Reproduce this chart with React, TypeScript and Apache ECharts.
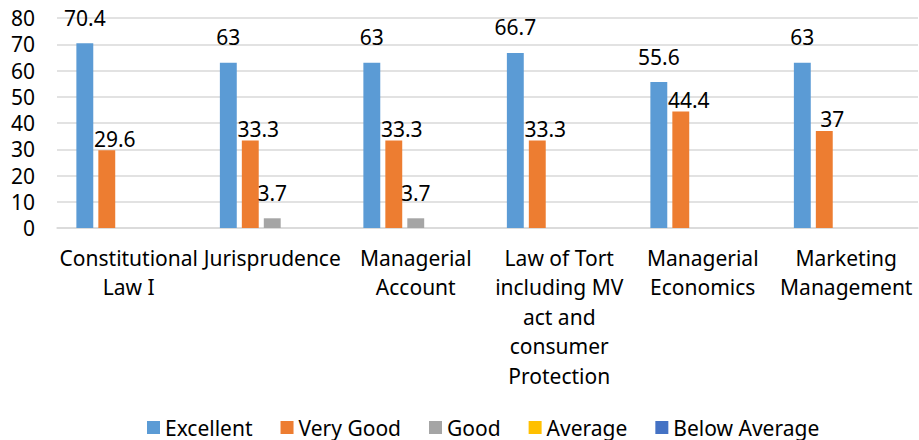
import React, { useEffect, useRef } from "react";
import * as echarts from "echarts";

const categories = [
  "Constitutional\nLaw I",
  "Jurisprudence",
  "Managerial\nAccount",
  "Law of Tort\nincluding MV\nact and\nconsumer\nProtection",
  "Managerial\nEconomics",
  "Marketing\nManagement",
];
const seriesNames = ["Excellent", "Very Good", "Good", "Average", "Below Average"];
const excellent = [70.4, 63, 63, 66.7, 55.6, 63];
const veryGood = [29.6, 33.3, 33.3, 33.3, 44.4, 37];
const good = [0, 3.7, 3.7, 0, 0, 0];
const average = [0, 0, 0, 0, 0, 0];
const belowAverage = [0, 0, 0, 0, 0, 0];
const yTicks = { min: 0, max: 80, interval: 10 };

const colors = ["#5B9BD5", "#ED7D31", "#A5A5A5", "#FFC000", "#4472C4"];
const labelStyles = [
  { distance: 15, offset: [0, 0] },
  { distance: 1, offset: [8, 0] },
  { distance: 15, offset: [0, 0] },
  { distance: 15, offset: [0, 0] },
  { distance: 15, offset: [0, 0] },
];
const FONT = "Noto Sans";

export default function App() {
  const ref = useRef<HTMLDivElement>(null);
  useEffect(() => {
    document.body.style.margin = "0";
    const chart = echarts.init(ref.current!, null, { renderer: "svg" });
    const data = [excellent, veryGood, good, average, belowAverage];
    chart.setOption({
      animation: false,
      textStyle: { fontFamily: FONT },
      color: colors,
      legend: {
        bottom: -3,
        left: 142,
        itemWidth: 13,
        itemHeight: 13,
        itemGap: 28,
        icon: "rect",
        textStyle: { fontSize: 21, color: "#000", fontFamily: FONT },
        data: seriesNames,
      },
      grid: { left: 57, right: 1, top: 18, bottom: 212, containLabel: false },
      xAxis: {
        type: "category",
        data: categories,
        axisLine: { show: true, lineStyle: { color: "#d9d9d9", width: 1.5 } },
        axisTick: { show: false },
        axisLabel: {
          interval: 0,
          fontSize: 21,
          color: "#000",
          lineHeight: 29.5,
          margin: 15,
          fontFamily: FONT,
        },
      },
      yAxis: {
        type: "value",
        min: yTicks.min,
        max: yTicks.max,
        interval: yTicks.interval,
        axisLine: { show: false },
        axisTick: { show: false },
        splitLine: { lineStyle: { color: "#d9d9d9", width: 1.5 } },
        axisLabel: { fontSize: 21, color: "#000", margin: 22, fontFamily: FONT },
      },
      series: seriesNames.map((name, i) => ({
        name,
        type: "bar",
        data: data[i],
        barGap: "30%",
        barCategoryGap: "27%",
        itemStyle: { color: colors[i] },
        label: {
          show: true,
          position: "top",
          distance: labelStyles[i].distance,
          offset: labelStyles[i].offset,
          fontSize: 21,
          color: "#000",
          fontFamily: FONT,
          formatter: (p: any) => (p.value > 0 ? String(p.value) : ""),
        },
      })),
    });
    return () => chart.dispose();
  }, []);
  return <div ref={ref} style={{ width: 919, height: 440 }} />;
}
